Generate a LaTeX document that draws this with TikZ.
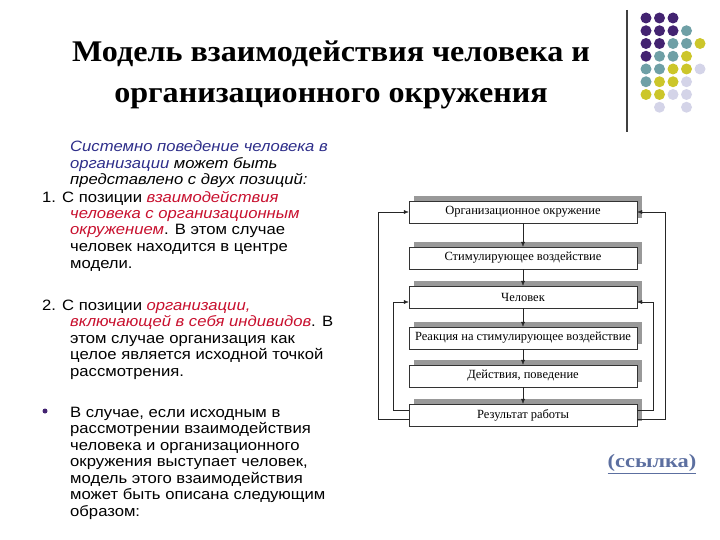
\documentclass[tikz,border=0pt]{standalone}
\usepackage{fontspec}
\setmainfont{Liberation Serif}
\newfontfamily\arialfont[FakeStretch=1.11]{Liberation Sans}
\newfontfamily\titlefont[FakeStretch=1.07]{Liberation Serif}
\newfontfamily\linkfont[FakeStretch=1.18]{Liberation Serif}
\usetikzlibrary{positioning,shadows,arrows.meta}

\definecolor{dotpurple}{HTML}{432371}
\definecolor{dotteal}{HTML}{6FA0A6}
\definecolor{dotyellow}{HTML}{CCC62A}
\definecolor{dotlav}{HTML}{D4D4E8}
\definecolor{navytext}{HTML}{2E2E8A}
\definecolor{redtext}{HTML}{C8102E}
\definecolor{linkblue}{HTML}{5C6FA0}

\begin{document}
\begin{tikzpicture}[x=1pt,y=-1pt,
  stagebox/.style={draw=black!80, fill=white, minimum width=228pt, minimum height=22pt, inner sep=0pt,
    font=\fontsize{12.5}{14}\selectfont,
    drop shadow={shadow xshift=5pt, shadow yshift=5pt, fill=black!40, opacity=1}},
  flow/.style={-{Latex[length=5pt,width=4pt]}, black!85},
  bodytext/.style={anchor=base west, align=left, inner sep=0pt,
    font=\arialfont\fontsize{15}{16.5}\selectfont}]

\useasboundingbox (0,0) rectangle (720,540);

% title (placed at the baseline of its last line)
\node[anchor=base, align=center, inner sep=0pt, font=\titlefont\bfseries\fontsize{30}{41}\selectfont] (title) at (331,103)
  {Модель взаимодействия человека и\\ организационного окружения};

% decoration top right
\draw[black!75, line width=1.2pt] (627,10) -- (627,132);
\foreach \c/\r/\col in {0/0/dotpurple, 1/0/dotpurple, 2/0/dotpurple,
    0/1/dotpurple, 1/1/dotpurple, 2/1/dotpurple, 3/1/dotteal,
    0/2/dotpurple, 1/2/dotpurple, 2/2/dotteal, 3/2/dotteal, 4/2/dotyellow,
    0/3/dotpurple, 1/3/dotteal, 2/3/dotteal, 3/3/dotyellow,
    0/4/dotteal, 1/4/dotteal, 2/4/dotyellow, 3/4/dotyellow, 4/4/dotlav,
    0/5/dotteal, 1/5/dotyellow, 2/5/dotyellow, 3/5/dotlav,
    0/6/dotyellow, 1/6/dotyellow, 2/6/dotlav, 3/6/dotlav,
    1/7/dotlav, 3/7/dotlav}
  \fill[\col] (646+13.5*\c, 18+12.75*\r) circle (5.5pt);

% left text (each node sits on the baseline of its last line)
\node[bodytext] (intro) at (70,185)
  {\textit{\color{navytext}Системно поведение человека в}\\
   \textit{\color{navytext}организации} \textit{может быть}\\
   \textit{представлено с двух позиций:}};
\node[bodytext] (first) at (42,268)
  {1. С позиции \textit{\color{redtext}взаимодействия}\\
   \hspace*{28pt}\textit{\color{redtext}человека с организационным}\\
   \hspace*{28pt}\textit{\color{redtext}окружением}. В этом случае\\
   \hspace*{28pt}человек находится в центре\\
   \hspace*{28pt}модели.};
\node[bodytext] (second) at (42,376)
  {2. С позиции \textit{\color{redtext}организации,}\\
   \hspace*{28pt}\textit{\color{redtext}включающей в себя индивидов}. В\\
   \hspace*{28pt}этом случае организация как\\
   \hspace*{28pt}целое является исходной точкой\\
   \hspace*{28pt}рассмотрения.};
\fill[dotpurple] (45,411) circle (2.5pt);
\node[bodytext] (third) at (70,516)
  {В случае, если исходным в\\
   рассмотрении взаимодействия\\
   человека и организационного\\
   окружения выступает человек,\\
   модель этого взаимодействия\\
   может быть описана следующим\\
   образом:};

% model
\node[stagebox] (orgenv) at (523,212) {Организационное окружение};
\node[stagebox] (stimul) at (523,258) {Стимулирующее воздействие};
\node[stagebox] (person) at (523,297) {Человек};
\node[stagebox] (react)  at (523,338) {Реакция на стимулирующее воздействие};
\node[stagebox] (action) at (523,376) {Действия, поведение};
\node[stagebox] (result) at (523,415) {Результат работы};

\foreach \a/\b in {orgenv/stimul, stimul/person, person/react, react/action, action/result}
  \draw[flow] (\a) -- (\b);

\coordinate (outL) at (378,419);
\coordinate (outR) at (665,419);
\coordinate (inL) at (393,410);
\coordinate (inR) at (653,410);
\draw[flow] ([yshift=-4pt]result.west) -| (outL) |- (orgenv.west);
\draw[flow] ([yshift=-4pt]result.east) -| (outR) |- (orgenv.east);
\draw[flow] ([yshift=5pt]result.west) -| (inL) |- ([yshift=-5pt]person.west);
\draw[flow] ([yshift=5pt]result.east) -| (inR) |- ([yshift=-5pt]person.east);

% link
\node[text=linkblue, font=\linkfont\bfseries\fontsize{19}{21}\selectfont] (link) at (652,464) {\underline{(ссылка)}};

\end{tikzpicture}
\end{document}
